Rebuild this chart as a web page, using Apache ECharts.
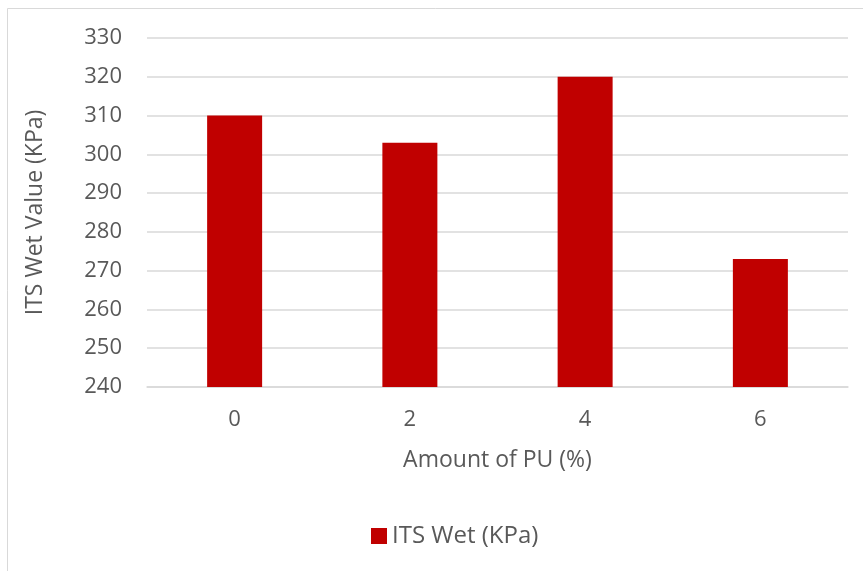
<!DOCTYPE html>
<html>
<head>
<meta charset="utf-8">
<script src="https://cdn.jsdelivr.net/npm/echarts@6/dist/echarts.min.js"></script>
<style>
  html, body { margin: 0; padding: 0; background: #fff; }
  #chart { width: 863px; height: 571px; }
</style>
</head>
<body>
<div id="chart"></div>
<script>
// PU content (%) and wet indirect tensile strength (KPa)
const categories = ['0', '2', '4', '6'];
const itsWet = [310, 303, 320, 273];
const seriesName = 'ITS Wet (KPa)';
const xAxisTitle = 'Amount of PU (%)';
const yAxisTitle = 'ITS Wet Value (KPa)';

const font = '"Open Sans", sans-serif';
const textGray = '#595959';

const chart = echarts.init(document.getElementById('chart'), null, { renderer: 'canvas' });
chart.setOption({
  animation: false,
  backgroundColor: '#ffffff',
  graphic: [{
    type: 'rect',
    shape: { x: 7.5, y: 8.5, width: 900, height: 600 },
    style: { fill: 'none', stroke: '#d9d9d9', lineWidth: 1 },
    silent: true
  }],
  grid: { left: 147, right: 15, top: 38, bottom: 184 },
  legend: {
    data: [seriesName],
    bottom: 18,
    left: 366,
    itemWidth: 16,
    itemHeight: 16,
    itemGap: 5,
    icon: 'rect',
    textStyle: { color: textGray, fontSize: 24, fontFamily: font }
  },
  xAxis: {
    type: 'category',
    data: categories,
    name: xAxisTitle,
    nameLocation: 'middle',
    nameGap: 62,
    nameTextStyle: { color: textGray, fontSize: 23, fontFamily: font },
    axisLine: { show: true, lineStyle: { color: '#d9d9d9', width: 1.5 } },
    axisTick: { show: false },
    axisLabel: { color: textGray, fontSize: 22, fontFamily: font, margin: 22 }
  },
  yAxis: {
    type: 'value',
    min: 240,
    max: 330,
    interval: 10,
    name: yAxisTitle,
    nameLocation: 'middle',
    nameGap: 100,
    nameRotate: 90,
    nameTextStyle: { color: textGray, fontSize: 23, fontFamily: font },
    axisLine: { show: false },
    axisTick: { show: false },
    axisLabel: { color: textGray, fontSize: 22, fontFamily: font, margin: 25 },
    splitLine: { lineStyle: { color: '#d9d9d9', width: 1.5 } }
  },
  series: [{
    name: seriesName,
    type: 'bar',
    data: itsWet,
    barWidth: 55,
    itemStyle: { color: '#c00000' }
  }]
});
</script>
</body>
</html>
